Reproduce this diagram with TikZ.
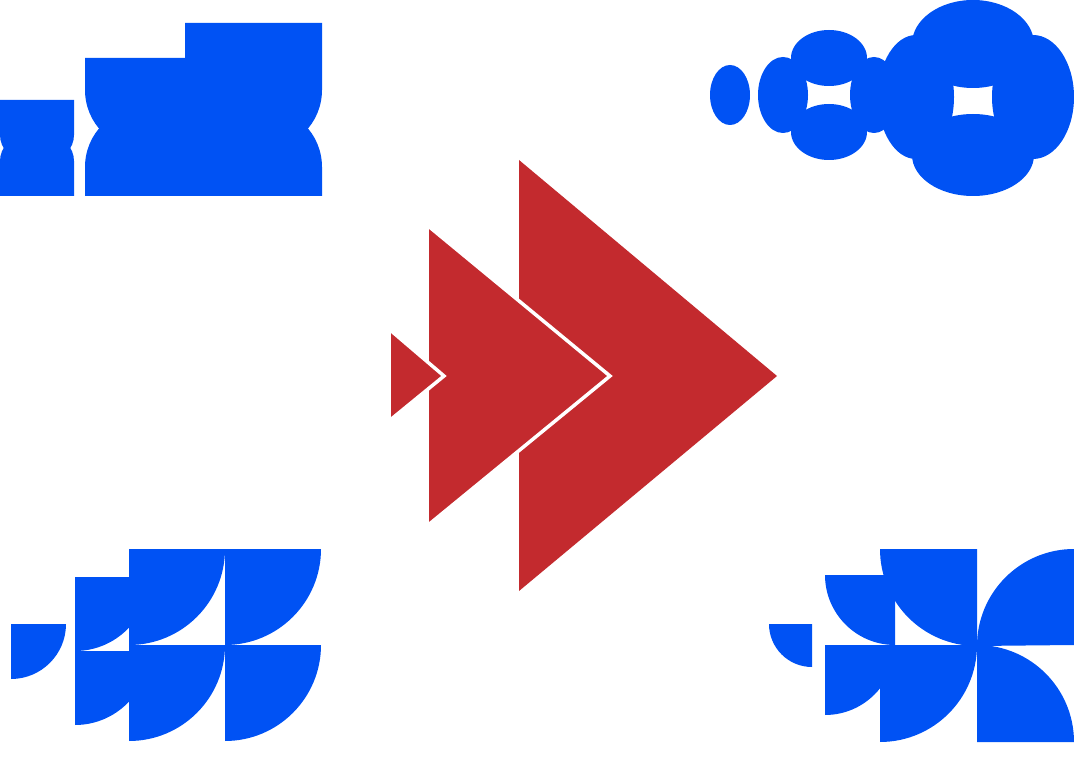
\documentclass[tikz,border=0pt]{standalone}
\usepackage{tikz}
\definecolor{tileblue}{HTML}{0052F4}
\definecolor{arrowred}{HTML}{C32A2E}
\begin{document}
\begin{tikzpicture}[x=1pt,y=-1pt,
  tile/.style={fill=tileblue},
  chevron/.style={fill=arrowred, draw=white, line width=3.5pt, line join=miter}]
\useasboundingbox (0,0) rectangle (1074,783);
% top left: rounded blocks
\fill[tile] (0,100) -- (74,100) {[rounded corners=25pt] -- (74,160) -- (0,160)} -- cycle;
\fill[tile] (0,196) -- (74,196) {[rounded corners=25pt] -- (74,136) -- (0,136)} -- cycle;
\fill[tile] (185,23) -- (322,23) {[rounded corners=60pt] -- (322,150) -- (85,150)} -- (85,58) -- (185,58) -- cycle;
\fill[tile] (85,196) -- (322,196) {[rounded corners=60pt] -- (322,107) -- (85,107)} -- cycle;
% top right: ellipse clusters
\fill[tile] (730,95) ellipse [x radius=20, y radius=30];
\foreach \cx/\cy/\rx/\ry in {829/58/38/28, 829/132/38/28, 783/95/25/38, 874/95/24/38}
  \fill[tile] (\cx,\cy) ellipse [x radius=\rx, y radius=\ry];
\foreach \cx/\cy/\rx/\ry in {973/44/61/44, 973/155/61/41, 916/97/38/62, 1033/97/41/62}
  \fill[tile] (\cx,\cy) ellipse [x radius=\rx, y radius=\ry];
% bottom left: quarter discs
\fill[tile] (11,624) -- (66,624) arc[start angle=0, end angle=90, radius=55] -- cycle;
\foreach \cx/\cy/\r in {75/577/74, 75/651/74}
  \fill[tile] (\cx,\cy) -- ++(\r,0) arc[start angle=0, end angle=90, radius=\r] -- cycle;
\foreach \cx/\cy in {129/549, 225/549, 129/645, 225/645}
  \fill[tile] (\cx,\cy) -- ++(96,0) arc[start angle=0, end angle=90, radius=96] -- cycle;
% bottom right: quarter discs
\fill[tile] (812,624) -- (769,624) arc[start angle=180, end angle=90, radius=43] -- cycle;
\fill[tile] (895,575) -- (825,575) arc[start angle=180, end angle=90, radius=70] -- cycle;
\fill[tile] (825,645) -- (895,645) arc[start angle=0, end angle=90, radius=70] -- cycle;
\fill[tile] (977,549) -- (880,549) arc[start angle=180, end angle=90, radius=97] -- cycle;
\fill[tile] (1074,645) -- (1074,549) arc[start angle=270, end angle=180, radius=97] -- cycle;
\fill[tile] (880,645) -- (977,645) arc[start angle=0, end angle=90, radius=97] -- cycle;
\fill[tile] (977,742) -- (977,645) arc[start angle=270, end angle=360, radius=97] -- cycle;
% centre: red chevrons
\fill[arrowred] (519,160) -- (777,376) -- (519,591) -- cycle;
\draw[chevron] (427,225) -- (610,376) -- (427,526) -- cycle;
\draw[chevron] (389,329) -- (444,376) -- (389,421) -- cycle;
\end{tikzpicture}
\end{document}
